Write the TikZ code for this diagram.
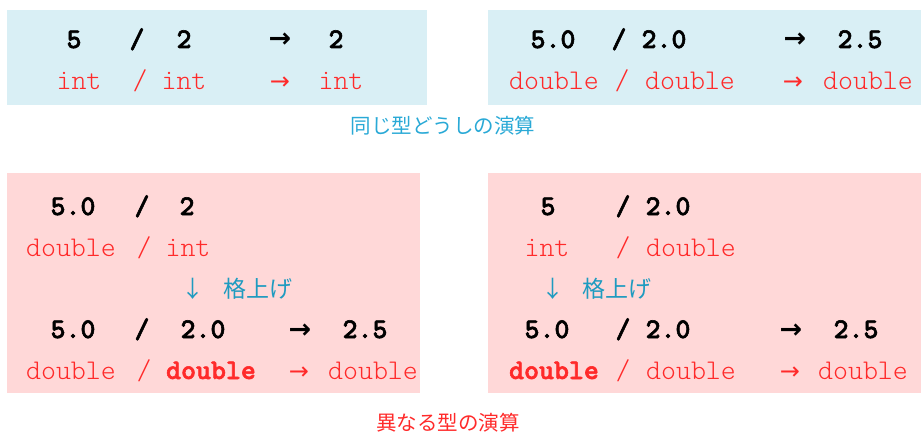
\documentclass[tikz,border=0pt]{standalone}
\usepackage{fontspec}
\newfontfamily\cjk{Noto Sans CJK JP}
\newfontfamily\arr{DejaVu Sans}
\newfontface\numfont{lmmonolt10-bold.otf}[FakeBold=2]
\newfontface\typfont{lmmonolt10-regular.otf}
\definecolor{boxblue}{HTML}{D9EFF5}
\definecolor{boxpink}{HTML}{FFD8D8}
\definecolor{tred}{HTML}{FF2A2A}
\definecolor{capblue}{HTML}{29A9D6}
\definecolor{upblue}{HTML}{1E9BC0}
\begin{document}
\begin{tikzpicture}[x=1pt,y=-1pt,
  every node/.style={inner sep=0pt,outer sep=0pt},
  num/.style={anchor=base,font=\numfont\fontsize{28.5}{28}\selectfont,text=black},
  typ/.style={anchor=base,font=\typfont\fontsize{28.5}{28}\selectfont,text=tred},
  typb/.style={anchor=base,font=\numfont\fontsize{28.5}{28}\selectfont,text=tred},
  arrb/.style={anchor=base,font=\arr\bfseries\fontsize{27}{27}\selectfont,text=black},
  arrt/.style={anchor=base,font=\arr\fontsize{24}{24}\selectfont,text=tred},
  up/.style={anchor=center,font=\cjk\fontsize{23}{23}\selectfont,text=upblue},
  captxt/.style={anchor=center,font=\cjk\fontsize{20.5}{21}\selectfont}]
\useasboundingbox (0,0) rectangle (921,433);
\fill[boxblue] (7,10) rectangle (427,105);
\fill[boxblue] (488,10) rectangle (921,105);
\fill[boxpink] (7,173) rectangle (420,393);
\fill[boxpink] (488,173) rectangle (921,393);
% top-left
\node[num] (a1) at (74,48) {5};
\node[num] (a2) at (137,48) {/};
\node[num] (a3) at (184,48) {2};
\node[arrb] (a4) at (280,48) {→};
\node[num] (a5) at (336,48) {2};
\node[typ] (b1) at (79,90) {int};
\node[typ] (b2) at (140,90) {/};
\node[typ] (b3) at (184,90) {int};
\node[arrt] (b4) at (280,90) {→};
\node[typ] (b5) at (341,90) {int};
% top-right
\node[num] (c1) at (553,48) {5.0};
\node[num] (c2) at (619,48) {/};
\node[num] (c3) at (664,48) {2.0};
\node[arrb] (c4) at (795,48) {→};
\node[num] (c5) at (860,48) {2.5};
\node[typ] (d1) at (554,90) {double};
\node[typ] (d2) at (622,90) {/};
\node[typ] (d3) at (690,90) {double};
\node[arrt] (d4) at (793,90) {→};
\node[typ] (d5) at (868,90) {double};
\node[captxt,text=capblue] (cap1) at (443,126) {同じ型どうしの演算};
% bottom-left
\node[num] (e1) at (73,215) {5.0};
\node[num] (e2) at (142,215) {/};
\node[num] (e3) at (187,215) {2};
\node[typ] (f1) at (71,256) {double};
\node[typ] (f2) at (144,256) {/};
\node[typ] (f3) at (188,256) {int};
\node[up] (g1) at (193,289) {↓};
\node[up] (g2) at (258,289) {格上げ};
\node[num] (h1) at (73,338) {5.0};
\node[num] (h2) at (142,338) {/};
\node[num] (h3) at (203,338) {2.0};
\node[arrb] (h4) at (300,338) {→};
\node[num] (h5) at (365,338) {2.5};
\node[typ] (i1) at (71,379) {double};
\node[typ] (i2) at (144,379) {/};
\node[typb] (i3) at (211,379) {double};
\node[arrt] (i4) at (299,379) {→};
\node[typ] (i5) at (373,379) {double};
% bottom-right
\node[num] (j1) at (548,215) {5};
\node[num] (j2) at (623,215) {/};
\node[num] (j3) at (668,215) {2.0};
\node[typ] (k1) at (547,256) {int};
\node[typ] (k2) at (623,256) {/};
\node[typ] (k3) at (691,256) {double};
\node[up] (l1) at (553,289) {↓};
\node[up] (l2) at (617,289) {格上げ};
\node[num] (m1) at (547,338) {5.0};
\node[num] (m2) at (623,338) {/};
\node[num] (m3) at (668,338) {2.0};
\node[arrb] (m4) at (791,338) {→};
\node[num] (m5) at (856,338) {2.5};
\node[typb] (n1) at (554,379) {double};
\node[typ] (n2) at (623,379) {/};
\node[typ] (n3) at (691,379) {double};
\node[arrt] (n4) at (790,379) {→};
\node[typ] (n5) at (863,379) {double};
\node[captxt,text=tred] (cap2) at (448,423) {異なる型の演算};
\end{tikzpicture}
\end{document}
